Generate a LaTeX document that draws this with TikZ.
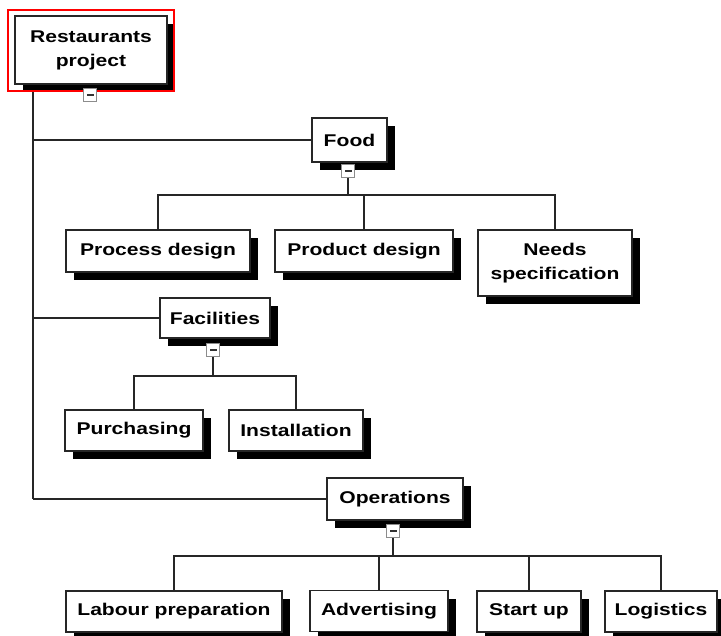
\documentclass[tikz,border=0pt]{standalone}
\usepackage{fontspec}
\setmainfont{Liberation Sans}[FakeStretch=1.24]
\usetikzlibrary{shadows,backgrounds}

\begin{document}
\begin{tikzpicture}[x=1pt,y=-1pt,
  box/.style={draw=black!85, line width=1.3pt, fill=white, inner sep=0pt,
    align=center, font=\fontsize{17}{24}\selectfont\bfseries,
    drop shadow={shadow xshift=8pt, shadow yshift=-8pt, fill=black, opacity=1}},
  conn/.style={draw=black!85, line width=1.3pt},
  toggle/.style={draw=black!45, line width=1.2pt, fill=white,
    minimum size=13pt, inner sep=0pt},
  minus/.style={fill=black!80, minimum width=7pt, minimum height=2pt, inner sep=0pt}
]
\useasboundingbox (0,0) rectangle (721,636);

% tree nodes
\node[box, minimum width=152pt, minimum height=68pt] (root) at (91,50) {Restaurants\\project};
\node[box, minimum width=75pt,  minimum height=44pt] (food) at (349.5,140) {Food};
\node[box, minimum width=184pt, minimum height=42pt] (proc) at (158,251) {Process design};
\node[box, minimum width=178pt, minimum height=42pt] (prod) at (364,251) {Product design};
\node[box, minimum width=154pt, minimum height=66pt] (needs) at (555,263) {Needs\\specification};
\node[box, minimum width=110pt, minimum height=40pt] (fac) at (215,318) {Facilities};
\node[box, minimum width=138pt, minimum height=41pt] (purch) at (134,430.5) {Purchasing};
\node[box, minimum width=134pt, minimum height=41pt] (inst) at (296,430.5) {Installation};
\node[box, minimum width=136pt, minimum height=42pt] (ops) at (395,499) {Operations};
\node[box, minimum width=216pt, minimum height=41pt] (labour) at (174,611.5) {Labour preparation};
\node[box, minimum width=138pt, minimum height=41pt] (adv) at (379,611) {Advertising};
\node[box, minimum width=104pt, minimum height=41pt] (start) at (529,611.5) {Start up};
\node[box, minimum width=112pt, minimum height=41pt] (logis) at (661,611.5) {Logistics};

% selection frame around the root
\draw[red, line width=1.3pt] (8,10) rectangle (174,91);

% collapse toggles
\node[toggle] (rt) at (90,95) {};
\node[minus] at (rt) {};
\node[toggle] (ft) at (348,171) {};
\node[minus] at (ft) {};
\node[toggle] (fat) at (213,350) {};
\node[minus] at (fat) {};
\node[toggle] (ot) at (393,531) {};
\node[minus] at (ot) {};

% bus and trunk positions
\coordinate (trunk) at (33,0);
\coordinate (fbus) at (0,195);
\coordinate (fabus) at (0,376);
\coordinate (obus) at (0,556);

\begin{scope}[on background layer]
  \fill[white] (0,0) rectangle (721,636);
  % main trunk
  \draw[conn] (root.south -| trunk) -- (ops.west -| trunk);
  \draw[conn] (food.west -| trunk) -- (food.west);
  \draw[conn] (fac.west -| trunk) -- (fac.west);
  \draw[conn] (ops.west -| trunk) -- (ops.west);
  % food branch
  \draw[conn] (ft.south) -- (ft.south |- fbus);
  \draw[conn] (proc.north) |- (needs.north |- fbus) -- (needs.north);
  \draw[conn] (prod.north) -- (prod.north |- fbus);
  % facilities branch
  \draw[conn] (fat.south) -- (fat.south |- fabus);
  \draw[conn] (purch.north) |- (inst.north |- fabus) -- (inst.north);
  % operations branch
  \draw[conn] (ot.south) -- (ot.south |- obus);
  \draw[conn] (labour.north) |- (logis.north |- obus) -- (logis.north);
  \draw[conn] (adv.north) -- (adv.north |- obus);
  \draw[conn] (start.north) -- (start.north |- obus);
\end{scope}
\end{tikzpicture}
\end{document}
